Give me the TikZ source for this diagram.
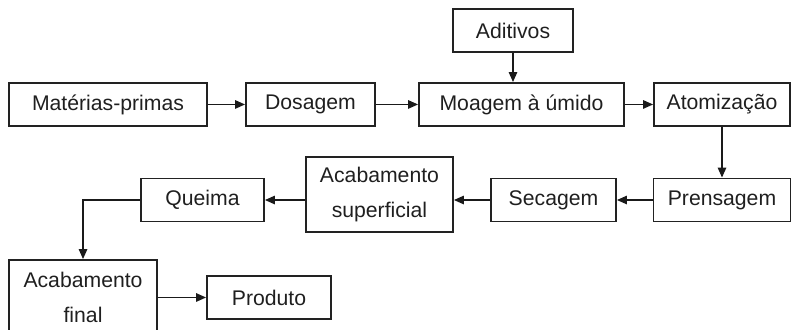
\documentclass[tikz,border=0pt]{standalone}
\usepackage{fontspec}
\setmainfont{Liberation Sans}
\usetikzlibrary{arrows.meta}
\definecolor{boxline}{HTML}{222222}
\definecolor{flowline}{HTML}{1A1A1A}

\begin{document}
\begin{tikzpicture}[
    >={Triangle[length=5pt, width=4.2pt]},
    font=\fontsize{10.6}{17.5}\selectfont,
    text=black!88,
    block/.style={draw=boxline, line width=0.9pt, inner sep=0pt, minimum width=#1, minimum height=0.756cm, align=center},
    tallblock/.style={block=#1, minimum height=1.318cm},
    flow/.style={->, line width=0.8pt, flowline}
]
    \useasboundingbox (0,0) rectangle (13.918,5.799);

    % First row
    \node[block=3.479cm] (materias) at (1.898, 3.963) {Matérias-primas};
    \node[block=2.267cm] (dosagem) at (5.456, 3.963) {Dosagem};
    \node[block=3.602cm] (moagem) at (9.164, 3.963) {Moagem à úmido};
    \node[block=2.390cm] (atomizacao) at (12.688, 3.963) {Atomização};
    \node[block=2.109cm] (aditivos) at (9.015, 5.263) {Aditivos};

    % Second row (right to left)
    \node[block=2.407cm] (prensagem) at (12.688, 2.284) {Prensagem};
    \node[block=2.197cm] (secagem) at (9.727, 2.284) {Secagem};
    \node[tallblock=2.583cm] (acabsup) at (6.669, 2.381) {Acabamento\\superficial};
    \node[block=2.161cm] (queima) at (3.559, 2.284) {Queima};

    % Third row
    \node[tallblock=2.601cm] (acabfinal) at (1.459, 0.571) {Acabamento\\final};
    \node[block=2.179cm] (produto) at (4.727, 0.571) {Produto};

    % Flow arrows
    \draw[flow] (materias) -- (dosagem);
    \draw[flow] (dosagem) -- (moagem);
    \draw[flow] (aditivos) -- (aditivos |- moagem.north);
    \draw[flow] (moagem) -- (atomizacao);
    \draw[flow] (atomizacao) -- (prensagem);
    \draw[flow] (prensagem) -- (secagem);
    \draw[flow] (secagem) -- (secagem -| acabsup.east);
    \draw[flow] (acabsup.west |- queima) -- (queima);
    \draw[flow] (queima.west) -| (acabfinal.north);
    \draw[flow] (acabfinal) -- (produto);

\end{tikzpicture}
\end{document}
